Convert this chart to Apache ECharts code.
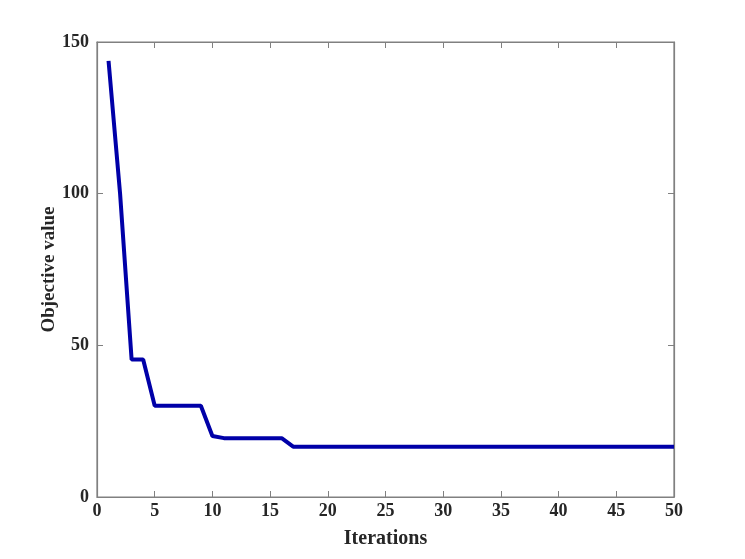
<!DOCTYPE html>
<html>
<head>
<meta charset="utf-8">
<script src="https://cdn.jsdelivr.net/npm/echarts@6/dist/echarts.min.js"></script>
<style>html,body{margin:0;padding:0;background:#fff}#c{width:745px;height:559px}</style>
</head>
<body>
<div id="c"></div>
<script>
const iterations = [1,2,3,4,5,6,7,8,9,10,11,12,13,14,15,16,17,18,19,20,21,22,23,24,25,26,27,28,29,30,31,32,33,34,35,36,37,38,39,40,41,42,43,44,45,46,47,48,49,50];
const objective = [143.8,100,45.3,45.3,30.1,30.1,30.1,30.1,30.1,20.1,19.4,19.4,19.4,19.4,19.4,19.4,16.6,16.6,16.6,16.6,16.6,16.6,16.6,16.6,16.6,16.6,16.6,16.6,16.6,16.6,16.6,16.6,16.6,16.6,16.6,16.6,16.6,16.6,16.6,16.6,16.6,16.6,16.6,16.6,16.6,16.6,16.6,16.6,16.6,16.6];
const xTitle = 'Iterations';
const yTitle = 'Objective value';

const font = '"Liberation Serif", "Times New Roman", serif';
const axisGray = '#808080';
const chart = echarts.init(document.getElementById('c'), null, {renderer: 'canvas'});
function tickAxis(extra) {
  return Object.assign({
    type: 'value',
    axisLine: {show: true, onZero: false, lineStyle: {color: axisGray, width: 1.2}},
    axisTick: {show: true, inside: true, length: 6, lineStyle: {color: axisGray, width: 1}},
    splitLine: {show: false}
  }, extra);
}
chart.setOption({
  animation: false,
  backgroundColor: '#fff',
  grid: {left: 97, right: 71, top: 42, bottom: 62, containLabel: false,
         show: true, borderColor: axisGray, borderWidth: 1.2, backgroundColor: 'transparent'},
  xAxis: [
    tickAxis({min: 0, max: 50, interval: 5, position: 'bottom',
      name: xTitle, nameLocation: 'middle', nameGap: 32, nameMoveOverlap: false,
      nameTextStyle: {color: '#262626', fontFamily: font, fontWeight: 'bold', fontSize: 20},
      axisLabel: {margin: 5, color: '#262626', fontFamily: font, fontWeight: 'bold', fontSize: 18}}),
    tickAxis({min: 0, max: 50, interval: 5, position: 'top', axisLabel: {show: false}})
  ],
  yAxis: [
    tickAxis({min: 0, max: 150, interval: 50, position: 'left',
      name: yTitle, nameLocation: 'middle', nameGap: 38, nameRotate: 90, nameMoveOverlap: false,
      nameTextStyle: {color: '#262626', fontFamily: font, fontWeight: 'bold', fontSize: 19},
      axisLabel: {margin: 8, color: '#262626', fontFamily: font, fontWeight: 'bold', fontSize: 18}}),
    tickAxis({min: 0, max: 150, interval: 50, position: 'right', axisLabel: {show: false}})
  ],
  series: [{
    type: 'line',
    xAxisIndex: 0, yAxisIndex: 0,
    data: iterations.map((x, i) => [x, objective[i]]),
    showSymbol: false,
    lineStyle: {color: '#0000a8', width: 4},
    itemStyle: {color: '#0000a8'}
  }]
});
</script>
</body>
</html>
